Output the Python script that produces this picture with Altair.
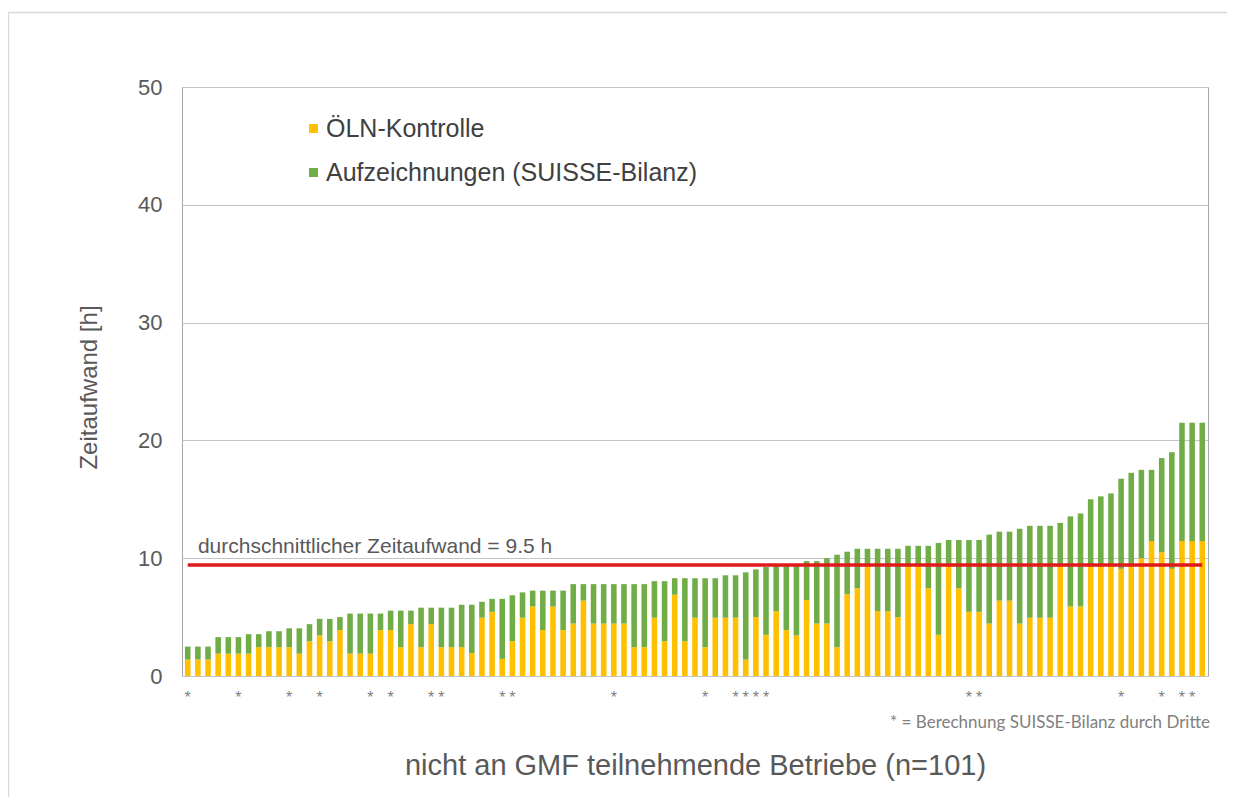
import altair as alt
import pandas as pd

# ---- data ----
betriebe = list(range(1, 102))

oeln_kontrolle = [
    1.4, 1.4, 1.4, 1.9, 1.9, 1.9, 1.9, 2.45, 2.45, 2.45,
    2.45, 1.9, 2.95, 3.45, 2.95, 3.9, 1.9, 1.9, 1.9, 3.9,
    3.9, 2.45, 4.4, 2.45, 4.4, 2.45, 2.45, 2.45, 1.95, 4.95,
    5.45, 1.45, 2.95, 4.95, 5.9, 3.9, 5.9, 3.9, 4.45, 6.4,
    4.45, 4.45, 4.45, 4.45, 2.45, 2.45, 4.95, 2.95, 6.9, 2.95,
    4.95, 2.45, 4.95, 4.95, 4.95, 1.4, 5.0, 3.5, 5.5, 3.9,
    3.45, 6.45, 4.45, 4.45, 2.45, 6.95, 7.45, 9.3, 5.5, 5.5,
    5.0, 9.3, 9.3, 7.45, 3.5, 9.3, 7.45, 5.45, 5.45, 4.45,
    6.4, 6.4, 4.45, 4.95, 4.95, 4.95, 9.3, 5.9, 5.9, 9.3,
    9.3, 9.3, 9.1, 9.3, 10.0, 11.45, 10.5, 9.1, 11.45, 11.45, 11.45,
]

gesamt = [
    2.5, 2.5, 2.5, 3.3, 3.3, 3.3, 3.55, 3.55, 3.8, 3.8,
    4.05, 4.05, 4.4, 4.85, 4.85, 5.0, 5.3, 5.3, 5.3, 5.3,
    5.55, 5.55, 5.55, 5.8, 5.8, 5.8, 5.8, 6.05, 6.05, 6.3,
    6.55, 6.55, 6.85, 7.1, 7.25, 7.25, 7.25, 7.25, 7.8, 7.8,
    7.8, 7.8, 7.8, 7.8, 7.8, 7.8, 8.05, 8.05, 8.3, 8.3,
    8.3, 8.3, 8.3, 8.55, 8.55, 8.8, 9.05, 9.25, 9.5, 9.5,
    9.5, 9.75, 9.75, 10.0, 10.3, 10.55, 10.8, 10.8, 10.8, 10.8,
    10.8, 11.05, 11.05, 11.05, 11.3, 11.55, 11.55, 11.55, 11.55, 12.0,
    12.25, 12.25, 12.5, 12.75, 12.75, 12.75, 13.0, 13.55, 13.8, 15.0,
    15.25, 15.5, 16.75, 17.25, 17.5, 17.5, 18.5, 19.0, 21.5, 21.5, 21.5,
]

# Betriebe marked with "*" (SUISSE-Bilanz calculated by third parties)
stern_betriebe = [1, 6, 11, 14, 19, 21, 25, 26, 32, 33, 43, 52, 55, 56, 57, 58,
                  78, 79, 93, 97, 99, 100]

mittelwert = 9.43
mittel_text = "durchschnittlicher Zeitaufwand = 9.5 h"
serien = ["ÖLN-Kontrolle", "Aufzeichnungen (SUISSE-Bilanz)"]
farben = ["#FFC000", "#70AD47"]
y_ticks = [0, 10, 20, 30, 40, 50]
x_titel = "nicht an GMF teilnehmende Betriebe (n=101)"
y_titel = "Zeitaufwand [h]"
fussnote = "* = Berechnung SUISSE-Bilanz durch Dritte"

FONT = "Liberation Sans"
GRAY = "#595959"

# long table: yellow segment 0 -> ÖLN, green segment ÖLN -> total
rows = []
for b, o, g in zip(betriebe, oeln_kontrolle, gesamt):
    rows.append({"Betrieb": b, "Serie": serien[0], "von": 0.0, "bis": o})
    rows.append({"Betrieb": b, "Serie": serien[1], "von": o, "bis": g})
df = pd.DataFrame(rows)

df_stern = pd.DataFrame({"Betrieb": stern_betriebe, "s": ["*"] * len(stern_betriebe)})
df_mittel = pd.DataFrame({"von": [betriebe[0]], "bis": [betriebe[-1]], "wert": [mittelwert]})
df_label = pd.DataFrame({"Betrieb": [2], "wert": [10.95], "text": [mittel_text]})

W, H = 1026, 589
PAD = {"left": 174, "top": 79, "right": 19, "bottom": 121}

x_scale = alt.Scale(domain=betriebe, paddingInner=0.45, paddingOuter=0.29)
y_scale = alt.Scale(domain=[0, 50])

legend = alt.Legend(
    title=None, orient="none", legendX=114, legendY=29,
    symbolType="square", symbolSize=81, symbolStrokeWidth=0, symbolOffset=5,
    labelFont=FONT, labelFontSize=25, labelColor="#404040",
    rowPadding=18, labelOffset=0, labelLimit=0,
)

# light frame of the chart area (decoration): top and left edges, kept inside the canvas
one = pd.DataFrame({"r": [0]})
rahmen_oben = alt.Chart(one).mark_rule(color="#D9D9D9", strokeWidth=1.5, clip=False).encode(
    x=alt.value(-173.5), x2=alt.value(W + PAD["right"]), y=alt.value(-74.5),
)
rahmen_links = alt.Chart(one).mark_rule(color="#D9D9D9", strokeWidth=1.5, clip=False).encode(
    x=alt.value(-173.5), y=alt.value(-74.5), y2=alt.value(H + PAD["bottom"]),
)

bars = alt.Chart(df).mark_bar().encode(
    x=alt.X(
        "Betrieb:O", scale=x_scale,
        axis=alt.Axis(labels=False, ticks=False, domain=False, title=x_titel,
                      titleFont=FONT, titleFontSize=29, titleFontWeight="normal",
                      titleColor=GRAY, titlePadding=75),
    ),
    y=alt.Y("bis:Q", scale=y_scale,
            axis=alt.Axis(values=y_ticks, ticks=False, domain=False,
                          labelFont=FONT, labelFontSize=22, labelColor=GRAY,
                          labelPadding=20, gridColor="#C4C4C4",
                          title=y_titel, titleFont=FONT, titleFontSize=24,
                          titleFontWeight="normal", titleColor=GRAY,
                          titlePadding=36, titleY=300)),
    y2="von:Q",
    color=alt.Color("Serie:N", scale=alt.Scale(domain=serien, range=farben),
                    legend=legend),
)

linie = alt.Chart(df_mittel).mark_rule(color="#E01A1A", strokeWidth=3.5).encode(
    x=alt.X("von:O", scale=x_scale),
    x2="bis:O",
    y=alt.Y("wert:Q", scale=y_scale),
)

label = alt.Chart(df_label).mark_text(
    align="left", baseline="middle", font=FONT, fontSize=21, color=GRAY
).encode(
    x=alt.X("Betrieb:O", scale=x_scale),
    y=alt.Y("wert:Q", scale=y_scale),
    text="text:N",
)

sterne = alt.Chart(df_stern).mark_text(
    baseline="alphabetic", font=FONT, fontSize=16, color="#808080"
).encode(
    x=alt.X("Betrieb:O", scale=x_scale),
    y=alt.value(H + 27),
    text="s:N",
)

fuss = alt.Chart(pd.DataFrame({"t": [fussnote]})).mark_text(
    align="right", baseline="middle", font="Lato", fontSize=17, color="#808080"
).encode(
    x=alt.value(W + 2),
    y=alt.value(H + 47),
    text="t:N",
)

chart = alt.layer(rahmen_oben, rahmen_links, bars, linie, label, sterne, fuss).properties(
    width=W, height=H,
    autosize=alt.AutoSizeParams(type="none"),
    padding=PAD,
    background="white",
).configure_view(
    stroke="#A6A6A6", strokeWidth=1
).configure_axis(
    gridWidth=1
)

chart.save("out.html", embed_options={"renderer": "svg", "actions": False})
